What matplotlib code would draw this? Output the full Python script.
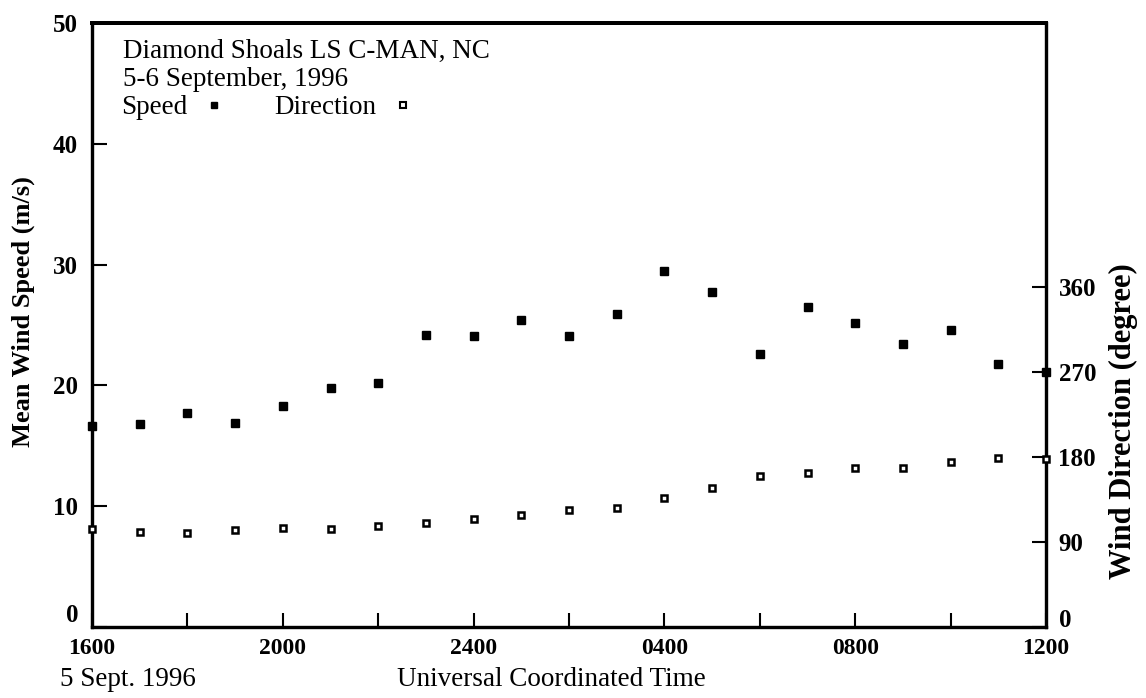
import matplotlib
matplotlib.use("Agg")
import matplotlib.pyplot as plt
from matplotlib.lines import Line2D

# ---- data ----
times = ["1600", "1700", "1800", "1900", "2000", "2100", "2200", "2300", "2400",
         "0100", "0200", "0300", "0400", "0500", "0600", "0700", "0800", "0900",
         "1000", "1100", "1200"]
speed = [16.6, 16.8, 17.7, 16.9, 18.3, 19.8, 20.2, 24.2, 24.1,
         25.4, 24.1, 25.9, 29.5, 27.7, 22.6, 26.5, 25.2, 23.4,
         24.6, 21.8, 21.1]
direction = [104, 101, 100, 103, 105, 104, 107, 110, 114,
             118.6, 124, 126, 137, 147, 160, 163, 168, 169,
             175, 179, 178]
xtick_labels = ["1600", "2000", "2400", "0400", "0800", "1200"]
speed_ticks = [0, 10, 20, 30, 40, 50]
dir_ticks = [0, 90, 180, 270, 360]

# hours elapsed since 1600 on 5 Sept
hours = list(range(len(times)))

W, H = 1146, 698
plt.rcParams['font.family'] = ['Liberation Serif', 'DejaVu Serif']
fig = plt.figure(figsize=(W / 100, H / 100), dpi=100)

L, R, B, T = 92, 1046, 627, 23
ax = fig.add_axes([L / W, 1 - B / H, (R - L) / W, (B - T) / H])
ax2 = ax.twinx()

ax.set_xlim(0, 20)
ax.set_ylim(0, 50)
ax2.set_ylim(0, 640)

ax.plot(hours, speed, linestyle='none', marker='s', markersize=5.5,
        color='black', clip_on=False, zorder=5)
ax2.plot(hours, direction, linestyle='none', marker='s', markersize=5,
         markerfacecolor='white', markeredgecolor='black', markeredgewidth=1.8,
         clip_on=False, zorder=5)

for a in (ax, ax2):
    for s in a.spines.values():
        s.set_linewidth(2.3)
    a.spines['top'].set_linewidth(2.8)

ax.set_xticks([0, 4, 8, 12, 16, 20])
ax.set_xticklabels(xtick_labels)
ax.set_xticks([2, 6, 10, 14, 18], minor=True)
ax.set_yticks(speed_ticks)
ax.set_yticklabels([""] + [str(v) for v in speed_ticks[1:]])
ax2.set_yticks(dir_ticks)
ax2.set_yticklabels([""] + [str(v) for v in dir_ticks[1:]])

ax.tick_params(axis='x', which='both', direction='in', length=10, width=1.5,
               pad=8, labelsize=17, top=False)
ax.tick_params(axis='y', direction='in', length=11, width=1.5, pad=10,
               labelsize=18, right=False)
ax2.tick_params(axis='y', direction='in', length=10, width=1.5, pad=9,
                labelsize=18)
for lab in ax.get_xticklabels() + ax.get_yticklabels() + ax2.get_yticklabels():
    lab.set_fontweight('bold')

# the two "0" labels sit slightly above the bottom corners
ax.annotate(str(speed_ticks[0]), xy=(0, speed_ticks[0]),
            xycoords=('axes fraction', 'data'), xytext=(-10, 8),
            textcoords='offset points', ha='right', va='center',
            fontsize=18, fontweight='bold')
ax2.annotate(str(dir_ticks[0]), xy=(1, dir_ticks[0]),
             xycoords=('axes fraction', 'data'), xytext=(9, 5),
             textcoords='offset points', ha='left', va='center',
             fontsize=18, fontweight='bold')

# header text
fs = 19.5
fig.text(123 / W, 1 - 58 / H, "Diamond Shoals LS C-MAN, NC", fontsize=fs,
         va='baseline', ha='left')
fig.text(123 / W, 1 - 86 / H, "5-6 September, 1996", fontsize=fs,
         va='baseline', ha='left')

handles = [Line2D([], [], linestyle='none', marker='s', markersize=4.5, color='black'),
           Line2D([], [], linestyle='none', marker='s', markersize=4.5,
                  markerfacecolor='white', markeredgecolor='black', markeredgewidth=1.5)]
leg = fig.legend(handles, ["Speed", "Direction"], loc='upper left',
                 bbox_to_anchor=(121 / W, 1 - 95 / H), ncol=2, markerfirst=False,
                 frameon=False, fontsize=fs, borderpad=0, borderaxespad=0,
                 handlelength=1.0, handletextpad=0.5, columnspacing=1.7)

# axis labels
fig.text(23 / W, 1 - 312 / H, "Mean Wind Speed (m/s)", rotation=90,
         ha='center', va='center', fontsize=19, fontweight='bold')
fig.text(1123 / W, 1 - 421 / H, "Wind Direction (degree)", rotation=90,
         ha='center', va='center', fontsize=22, fontweight='bold')
fig.text(60 / W, 1 - 680 / H, "5 Sept. 1996", ha='left', va='center', fontsize=fs)
fig.text(551 / W, 1 - 680 / H, "Universal Coordinated Time", ha='center',
         va='center', fontsize=fs)

fig.savefig("out.png", dpi=100)
